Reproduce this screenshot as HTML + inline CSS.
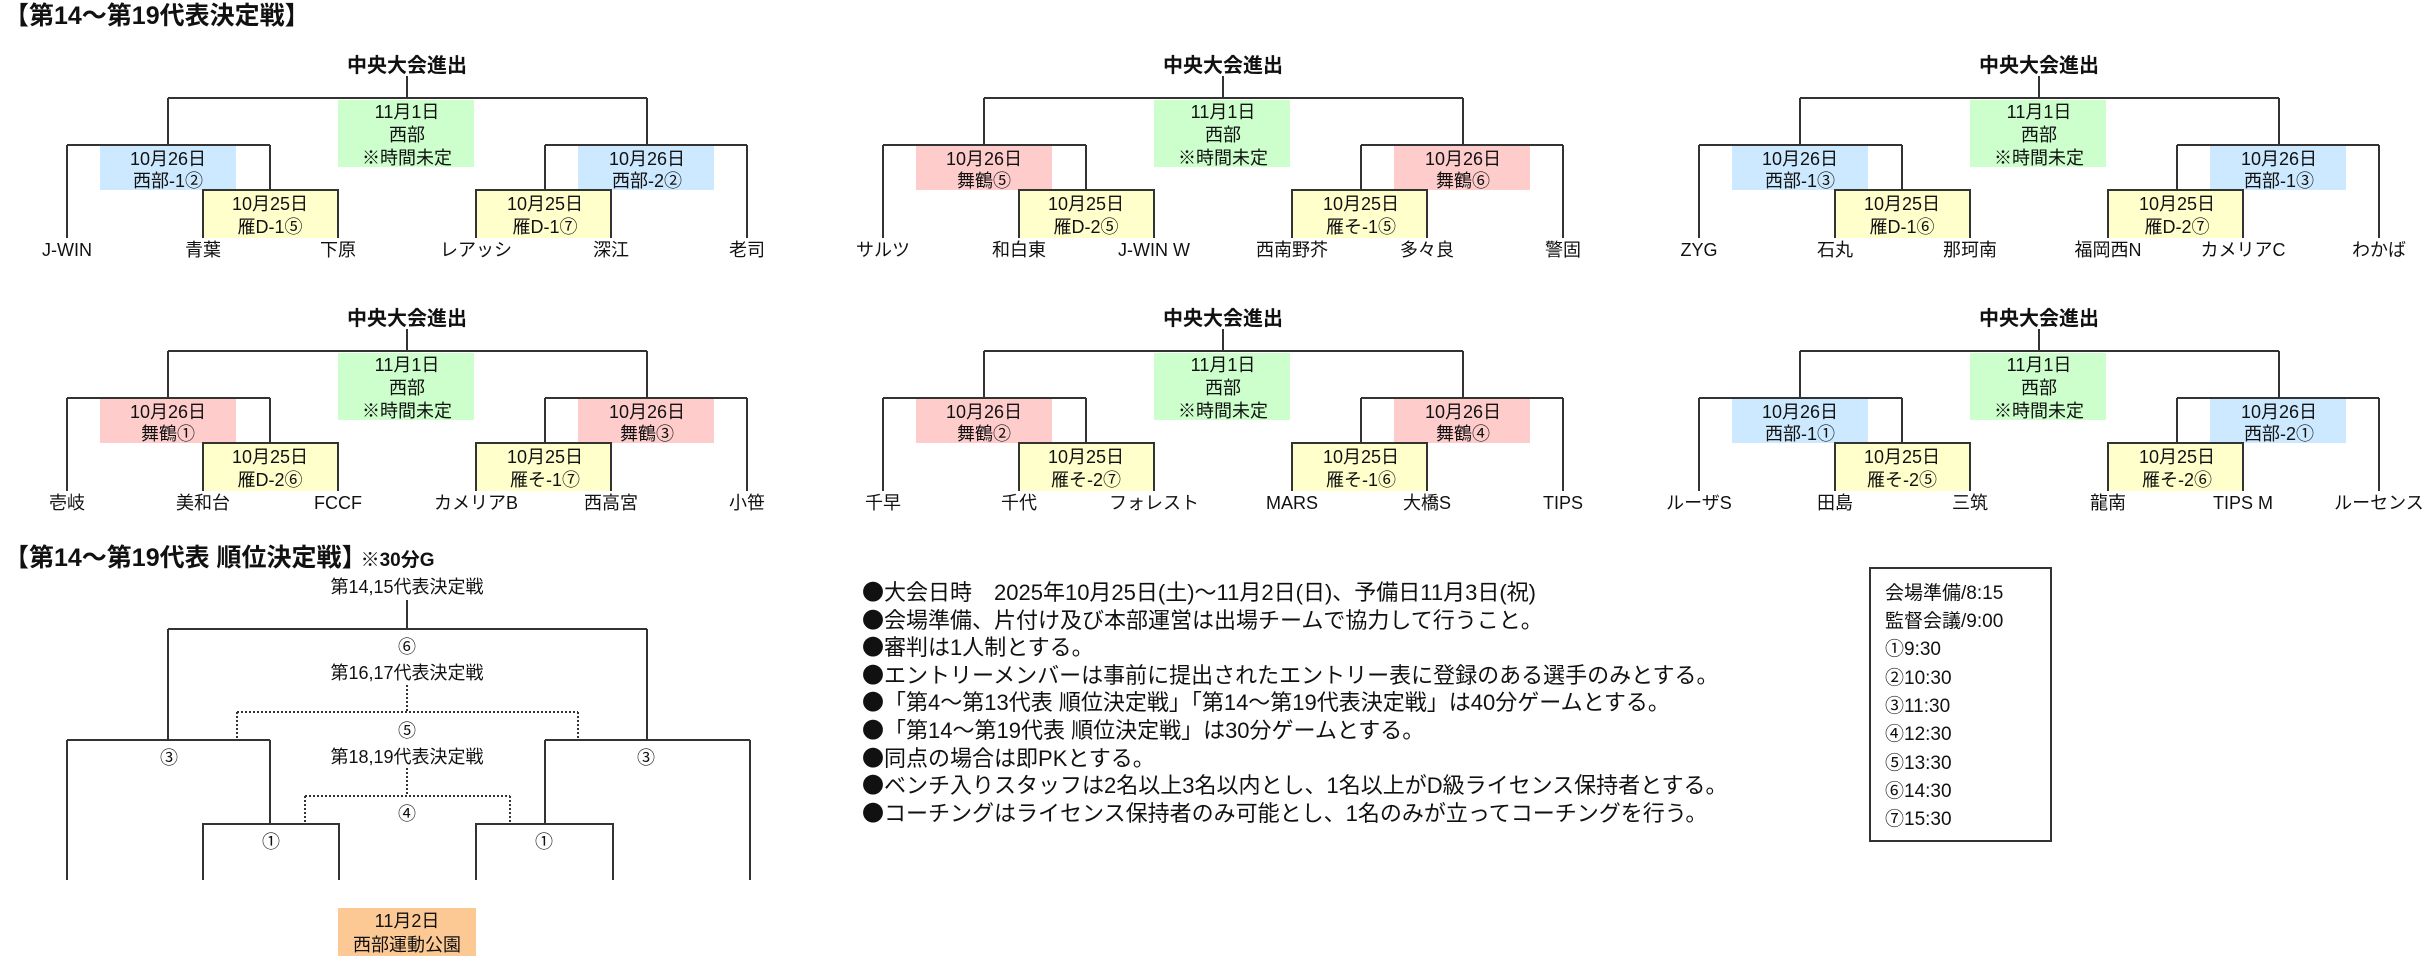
<!DOCTYPE html>
<html><head><meta charset="utf-8">
<style>
html,body{margin:0;padding:0;background:#fff;width:2426px;height:961px;overflow:hidden}
svg{display:block}
text{font-family:"Liberation Sans","Noto Sans CJK JP",sans-serif;fill:#111}
.t{font-size:18px;text-anchor:middle}
.h{font-size:20px;font-weight:bold;text-anchor:middle}
.ln{stroke:#333;stroke-width:2;fill:none}
.dt{stroke:#333;stroke-width:2;fill:none;stroke-dasharray:2 2}
.b{font-family:"Noto Sans CJK JP",sans-serif}
</style></head><body>
<svg width="2426" height="961" viewBox="0 0 2426 961">
<defs>
<g id="br">
  <rect x="-69" y="100" width="136" height="67" fill="#ccffcc"/>
  <rect x="-204" y="190" width="135" height="48" fill="#ffffcc"/>
  <rect x="69" y="190" width="135" height="48" fill="#ffffcc"/>
  <path class="ln" d="M0 76V98M-239 98H240M-239 98V145M-340 145H-137M-340 145V238M-137 145V190M-204 238V190H-69V238M240 98V145M138 145H340M340 145V238M138 145V190M69 238V190H204V238"/>
  <text class="h" x="0" y="72">中央大会進出</text>
  <text class="t" x="0" y="118">11月1日</text>
  <text class="t" x="0" y="141">西部</text>
  <text class="t" x="0" y="164">※時間未定</text>
  <text class="t" x="-137" y="210">10月25日</text>
  <text class="t" x="138" y="210">10月25日</text>
  <text class="t" x="-239" y="165">10月26日</text>
  <text class="t" x="240" y="165">10月26日</text>
</g>
</defs>

<text x="4" y="24" style="font-size:25px;font-weight:bold">【第14～第19代表決定戦】</text>

<g transform="translate(407,0)">
  <rect x="-307" y="146" width="136" height="44" fill="#cce9ff"/>
  <rect x="171" y="146" width="136" height="44" fill="#cce9ff"/>
  <use href="#br"/>
  <text class="t" x="-239" y="187">西部-1②</text><text class="t" x="240" y="187">西部-2②</text>
  <text class="t" x="-137" y="233">雁D-1⑤</text><text class="t" x="138" y="233">雁D-1⑦</text>
  <text class="t" x="-340" y="256">J-WIN</text><text class="t" x="-204" y="256">青葉</text><text class="t" x="-69" y="256">下原</text>
  <text class="t" x="69" y="256">レアッシ</text><text class="t" x="204" y="256">深江</text><text class="t" x="340" y="256">老司</text>
</g>
<g transform="translate(1223,0)">
  <rect x="-307" y="146" width="136" height="44" fill="#ffcccc"/>
  <rect x="171" y="146" width="136" height="44" fill="#ffcccc"/>
  <use href="#br"/>
  <text class="t" x="-239" y="187">舞鶴⑤</text><text class="t" x="240" y="187">舞鶴⑥</text>
  <text class="t" x="-137" y="233">雁D-2⑤</text><text class="t" x="138" y="233">雁そ-1⑤</text>
  <text class="t" x="-340" y="256">サルツ</text><text class="t" x="-204" y="256">和白東</text><text class="t" x="-69" y="256">J-WIN W</text>
  <text class="t" x="69" y="256">西南野芥</text><text class="t" x="204" y="256">多々良</text><text class="t" x="340" y="256">警固</text>
</g>
<g transform="translate(2039,0)">
  <rect x="-307" y="146" width="136" height="44" fill="#cce9ff"/>
  <rect x="171" y="146" width="136" height="44" fill="#cce9ff"/>
  <use href="#br"/>
  <text class="t" x="-239" y="187">西部-1③</text><text class="t" x="240" y="187">西部-1③</text>
  <text class="t" x="-137" y="233">雁D-1⑥</text><text class="t" x="138" y="233">雁D-2⑦</text>
  <text class="t" x="-340" y="256">ZYG</text><text class="t" x="-204" y="256">石丸</text><text class="t" x="-69" y="256">那珂南</text>
  <text class="t" x="69" y="256">福岡西N</text><text class="t" x="204" y="256">カメリアC</text><text class="t" x="340" y="256">わかば</text>
</g>
<g transform="translate(407,253)">
  <rect x="-307" y="146" width="136" height="44" fill="#ffcccc"/>
  <rect x="171" y="146" width="136" height="44" fill="#ffcccc"/>
  <use href="#br"/>
  <text class="t" x="-239" y="187">舞鶴①</text><text class="t" x="240" y="187">舞鶴③</text>
  <text class="t" x="-137" y="233">雁D-2⑥</text><text class="t" x="138" y="233">雁そ-1⑦</text>
  <text class="t" x="-340" y="256">壱岐</text><text class="t" x="-204" y="256">美和台</text><text class="t" x="-69" y="256">FCCF</text>
  <text class="t" x="69" y="256">カメリアB</text><text class="t" x="204" y="256">西高宮</text><text class="t" x="340" y="256">小笹</text>
</g>
<g transform="translate(1223,253)">
  <rect x="-307" y="146" width="136" height="44" fill="#ffcccc"/>
  <rect x="171" y="146" width="136" height="44" fill="#ffcccc"/>
  <use href="#br"/>
  <text class="t" x="-239" y="187">舞鶴②</text><text class="t" x="240" y="187">舞鶴④</text>
  <text class="t" x="-137" y="233">雁そ-2⑦</text><text class="t" x="138" y="233">雁そ-1⑥</text>
  <text class="t" x="-340" y="256">千早</text><text class="t" x="-204" y="256">千代</text><text class="t" x="-69" y="256">フォレスト</text>
  <text class="t" x="69" y="256">MARS</text><text class="t" x="204" y="256">大橋S</text><text class="t" x="340" y="256">TIPS</text>
</g>
<g transform="translate(2039,253)">
  <rect x="-307" y="146" width="136" height="44" fill="#cce9ff"/>
  <rect x="171" y="146" width="136" height="44" fill="#cce9ff"/>
  <use href="#br"/>
  <text class="t" x="-239" y="187">西部-1①</text><text class="t" x="240" y="187">西部-2①</text>
  <text class="t" x="-137" y="233">雁そ-2⑤</text><text class="t" x="138" y="233">雁そ-2⑥</text>
  <text class="t" x="-340" y="256">ルーザS</text><text class="t" x="-204" y="256">田島</text><text class="t" x="-69" y="256">三筑</text>
  <text class="t" x="69" y="256">龍南</text><text class="t" x="204" y="256">TIPS M</text><text class="t" x="340" y="256">ルーセンス</text>
</g>

<text x="4" y="566" style="font-size:25px;font-weight:bold">【第14～第19代表 順位決定戦<tspan class="b">】</tspan><tspan dx="-6" style="font-size:19px">※30分G</tspan></text>
<path class="ln" d="M407 600V629M168 629H647M168 629V740M67 740H270M67 740V880M270 740V824M203 880V824H339V880M647 629V740M545 740H750M750 740V880M545 740V824M476 880V824H613V880"/>
<path class="dt" d="M407 685V712M237 712H578M237 712V740M578 712V740M407 768V796M305 796H510M305 796V824M510 796V824"/>
<text class="t" x="407" y="593">第14,15代表決定戦</text>
<text class="t" x="407" y="653">⑥</text>
<text class="t" x="407" y="679">第16,17代表決定戦</text>
<text class="t" x="407" y="737">⑤</text>
<text class="t" x="407" y="763">第18,19代表決定戦</text>
<text class="t" x="407" y="820">④</text>
<text class="t" x="169" y="764">③</text>
<text class="t" x="646" y="764">③</text>
<text class="t" x="271" y="848">①</text>
<text class="t" x="544" y="848">①</text>
<rect x="338" y="908" width="138" height="48" fill="#fcc995"/>
<text class="t" x="407" y="927">11月2日</text>
<text class="t" x="407" y="951">西部運動公園</text>

<g style="font-size:22px">
<text x="862" y="600"><tspan class="b">●</tspan>大会日時　2025年10月25日(土)～11月2日(日)、予備日11月3日(祝)</text>
<text x="862" y="628"><tspan class="b">●</tspan>会場準備、片付け及び本部運営は出場チームで協力して行うこと。</text>
<text x="862" y="655"><tspan class="b">●</tspan>審判は1人制とする。</text>
<text x="862" y="683"><tspan class="b">●</tspan>エントリーメンバーは事前に提出されたエントリー表に登録のある選手のみとする。</text>
<text x="862" y="710"><tspan class="b">●</tspan>「第4～第13代表 順位決定戦」「第14～第19代表決定戦」は40分ゲームとする。</text>
<text x="862" y="738"><tspan class="b">●</tspan>「第14～第19代表 順位決定戦」は30分ゲームとする。</text>
<text x="862" y="766"><tspan class="b">●</tspan>同点の場合は即PKとする。</text>
<text x="862" y="793"><tspan class="b">●</tspan>ベンチ入りスタッフは2名以上3名以内とし、1名以上がD級ライセンス保持者とする。</text>
<text x="862" y="821"><tspan class="b">●</tspan>コーチングはライセンス保持者のみ可能とし、1名のみが立ってコーチングを行う。</text>
</g>

<rect x="1870" y="568" width="181" height="273" fill="none" stroke="#333" stroke-width="2"/>
<g style="font-size:19px">
<text x="1885" y="599">会場準備/8:15</text>
<text x="1885" y="627">監督会議/9:00</text>
<text x="1885" y="655">①9:30</text>
<text x="1885" y="684">②10:30</text>
<text x="1885" y="712">③11:30</text>
<text x="1885" y="740">④12:30</text>
<text x="1885" y="769">⑤13:30</text>
<text x="1885" y="797">⑥14:30</text>
<text x="1885" y="825">⑦15:30</text>
</g>
</svg>
</body></html>
